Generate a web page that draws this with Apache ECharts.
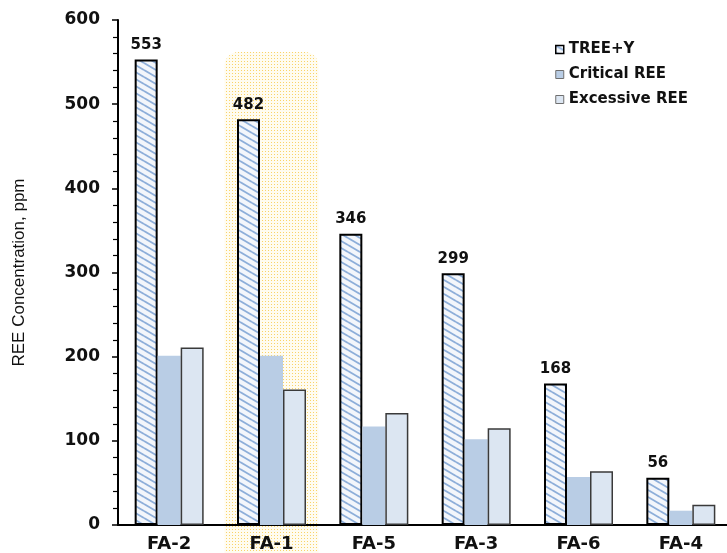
<!DOCTYPE html>
<html>
<head>
<meta charset="utf-8">
<script src="https://cdn.jsdelivr.net/npm/echarts@6/dist/echarts.min.js"></script>
<style>
  html, body { margin: 0; padding: 0; background: #fff; }
  #chart { width: 727px; height: 553px; }
</style>
</head>
<body>
<div id="chart"></div>
<script>
// Samples and REE concentrations (ppm)
const samples = ['FA-2', 'FA-1', 'FA-5', 'FA-3', 'FA-6', 'FA-4'];
const treeY = [553, 482, 346, 299, 168, 56];
const criticalREE = [201, 201, 117, 102, 57, 17];
const excessiveREE = [211, 161, 133, 115, 64, 24];
const seriesNames = ['TREE+Y', 'Critical REE', 'Excessive REE'];
const highlighted = 'FA-1';

// Diagonal hatch tile for the total REE bars
function hatchTile() {
  const c = document.createElement('canvas');
  c.width = 12; c.height = 7;
  const g = c.getContext('2d');
  g.fillStyle = '#f3f6fb';
  g.fillRect(0, 0, 12, 7);
  g.strokeStyle = '#8daed9';
  g.lineWidth = 1.8;
  [[-12, -7], [0, 0], [12, 7], [-12, 0], [0, -7], [12, 0], [0, 7]].forEach(([dx, dy]) => {
    g.beginPath();
    g.moveTo(dx, dy);
    g.lineTo(dx + 12, dy + 7);
    g.stroke();
  });
  return c;
}

// Dotted yellow fill for the highlighted sample
function dotTile() {
  const c = document.createElement('canvas');
  c.width = 3; c.height = 3;
  const g = c.getContext('2d');
  g.fillStyle = 'rgba(255, 252, 240, 1)';
  g.fillRect(0, 0, 3, 3);
  g.fillStyle = 'rgba(248, 206, 90, 0.9)';
  g.fillRect(1, 1, 1, 1);
  return c;
}

const hatch = { image: hatchTile(), repeat: 'repeat' };
const boldFont = 'DejaVu Sans';

const chart = echarts.init(document.getElementById('chart'));
chart.setOption({
  animation: false,
  backgroundColor: '#ffffff',
  grid: { left: 118, top: 20, bottom: 28, width: 614, outerBoundsMode: 'none' },
  legend: {
    orient: 'vertical',
    left: 550,
    top: 37,
    icon: 'rect',
    itemWidth: 8,
    itemHeight: 8,
    itemGap: 10,
    textStyle: { fontFamily: boldFont, fontWeight: 'bold', fontSize: 15, color: '#111' },
    data: [
      { name: seriesNames[0], itemStyle: { color: hatch, borderColor: '#000', borderWidth: 1.5 } },
      { name: seriesNames[1], itemStyle: { color: '#b9cde5', borderColor: '#6f6f6f', borderWidth: 1 } },
      { name: seriesNames[2], itemStyle: { color: '#dce6f2', borderColor: '#6f6f6f', borderWidth: 1 } }
    ]
  },
  xAxis: {
    type: 'category',
    data: samples,
    axisLine: { lineStyle: { color: '#000', width: 2 } },
    axisTick: { show: false },
    axisLabel: { margin: 10, fontFamily: boldFont, fontWeight: 'bold', fontSize: 18, color: '#111' }
  },
  yAxis: {
    type: 'value',
    min: 0,
    max: 600,
    interval: 100,
    name: 'REE Concentration, ppm',
    nameLocation: 'middle',
    nameGap: 90,
    nameTextStyle: { fontFamily: 'Liberation Sans', fontSize: 17, color: '#111' },
    axisLine: { show: true, lineStyle: { color: '#000', width: 2 } },
    axisTick: { show: true, length: 6, lineStyle: { color: '#000', width: 1.5 } },
    minorTick: { show: true, splitNumber: 5, length: 5, lineStyle: { color: '#000', width: 1.2 } },
    splitLine: { show: false },
    axisLabel: { margin: 18, fontFamily: boldFont, fontWeight: 'bold', fontSize: 17, color: '#111' }
  },
  series: [
    {
      name: seriesNames[0],
      type: 'bar',
      data: treeY,
      barWidth: 23,
      barGap: '0%',
      itemStyle: { color: hatch, borderColor: '#000', borderWidth: 2 },
      label: {
        show: true, position: 'top', distance: 7,
        fontFamily: boldFont, fontWeight: 'bold', fontSize: 15, color: '#111'
      }
    },
    {
      name: seriesNames[1],
      type: 'bar',
      data: criticalREE,
      barWidth: 23,
      barGap: '0%',
      itemStyle: { color: '#b9cde5' }
    },
    {
      name: seriesNames[2],
      type: 'bar',
      data: excessiveREE,
      barWidth: 23,
      barGap: '0%',
      itemStyle: { color: '#dce6f2', borderColor: '#3a3a3a', borderWidth: 1.5 }
    }
  ]
});

// Dotted panel behind the highlighted sample
const cx = chart.convertToPixel({ xAxisIndex: 0 }, highlighted);
const topY = chart.convertToPixel({ yAxisIndex: 0 }, 562);
chart.setOption({
  graphic: [{
    type: 'rect',
    z: -1,
    silent: true,
    shape: { x: cx - 47, y: topY, width: 94, height: 553 - topY + 10, r: [14, 14, 0, 0] },
    style: { fill: { image: dotTile(), repeat: 'repeat' } }
  }]
});
</script>
</body>
</html>
